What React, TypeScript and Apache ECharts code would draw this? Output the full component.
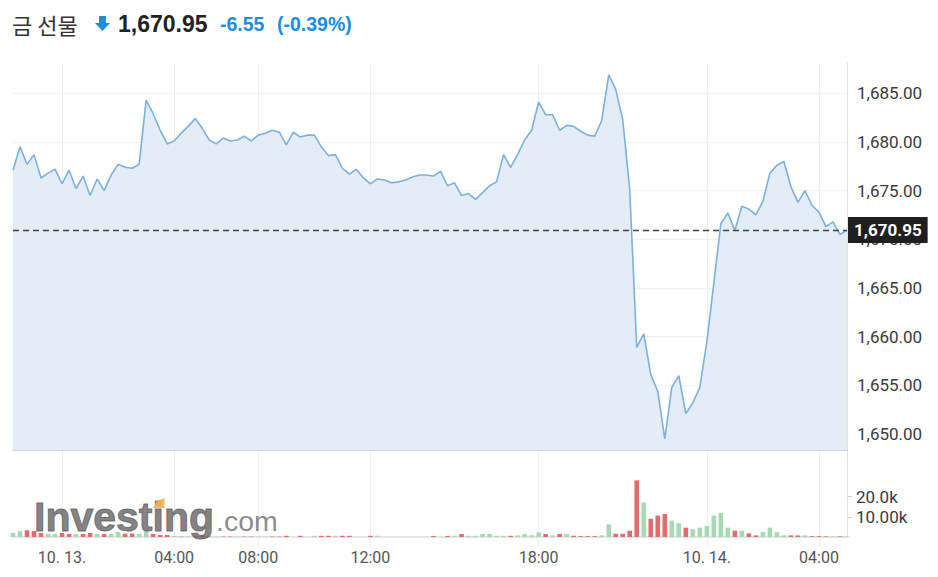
import React, { useEffect, useRef } from 'react';
import * as echarts from 'echarts';

// ---- header texts ----
const instrumentName = '금 선물';
const lastPriceText = '1,670.95';
const changeText = '-6.55';
const changePctText = '(-0.39%)';
const lastPrice = 1670.95;

// ---- price (15-minute closes, 10.12 22:15 -> 10.14 05:00, 06:00-07:00 break) ----
const priceValues = [
  1677.1, 1679.5, 1677.7, 1678.7, 1676.3, 1676.8, 1677.2, 1675.7, 1677.1, 1675.2,
  1676.5, 1674.5, 1676.2, 1675.0, 1676.6, 1677.7, 1677.4, 1677.3, 1677.7, 1684.3,
  1682.9, 1681.2, 1679.8, 1680.1, 1680.9, 1681.6, 1682.4, 1681.4, 1680.2, 1679.8,
  1680.4, 1680.1, 1680.2, 1680.6, 1680.1, 1680.7, 1680.9, 1681.2, 1681.0, 1679.7,
  1681.0, 1680.5, 1680.7, 1680.7, 1679.5, 1678.6, 1678.7, 1677.3, 1676.7, 1677.2,
  1676.3, 1675.7, 1676.2, 1676.1, 1675.8, 1675.9, 1676.1, 1676.4, 1676.6, 1676.6,
  1676.5, 1677.0, 1675.5, 1675.8, 1674.5, 1674.7, 1674.1, 1674.8, 1675.5, 1675.9,
  1678.7, 1677.4, 1678.7, 1680.2, 1681.2, 1684.1, 1682.8, 1682.8, 1681.2, 1681.7,
  1681.6, 1681.1, 1680.7, 1680.6, 1682.2, 1686.9, 1685.4, 1682.3, 1675.1, 1658.9,
  1660.3, 1656.1, 1654.4, 1649.5, 1654.8, 1656.0, 1652.1, 1653.2, 1654.8, 1659.5,
  1665.5, 1671.6, 1672.7, 1670.9, 1673.4, 1673.1, 1672.5, 1673.9, 1676.8, 1677.6,
  1678.0, 1675.4, 1673.8, 1675.0, 1673.5, 1672.8, 1671.3, 1671.8, 1670.5, 1670.95,
];

// ---- volume in thousands ----
const volumeValues = [
  2.0, 3.0, 3.3, 3.0, 2.0, 1.6, 1.5, 2.0, 1.5, 1.5,
  1.5, 2.0, 1.5, 1.5, 1.5, 2.5, 1.7, 1.7, 1.5, 3.0,
  1.5, 1.0, 1.0, 0.5, 0.5, 0.3, 0.3, 0.6, 0.2, 0.2,
  0.2, 0.2, 0.2, 0.2, 0.2, 0.2, 0.2, 0.2, 0.2, 0.6,
  0, 0.6, 0, 0.6, 0.6, 0.6, 0.6, 0.6, 0.6, 0,
  0, 0.6, 0.6, 0, 0, 0, 0, 0, 0, 0,
  0.5, 0, 0.5, 0.6, 1.5, 0.6, 0.6, 1.5, 1.5, 0.6,
  0.6, 0.6, 0.8, 1.4, 0.9, 2.3, 1.5, 0.8, 1.5, 1.5,
  0.6, 0.4, 0.4, 0.4, 0.8, 6.2, 1.6, 1.6, 3.1, 28.0,
  17.1, 9.0, 10.6, 11.4, 8.1, 6.8, 4.6, 3.8, 4.6, 5.4,
  10.6, 11.9, 4.6, 3.1, 3.1, 1.8, 0.8, 2.4, 4.6, 2.4,
  0.8, 0.8, 0.8, 0.8, 0.4, 0.4, 0.3, 0.3, 0.3, 0.3,
];
// 1 = up (green), 0 = down (red)
const volumeUp = [
  1, 1, 0, 0, 0, 1, 1, 0, 0, 1,
  0, 0, 1, 0, 1, 1, 0, 0, 1, 1,
  0, 0, 0, 1, 1, 1, 0, 0, 0, 1,
  0, 0, 1, 0, 0, 1, 1, 0, 0, 0,
  0, 0, 1, 1, 0, 0, 1, 0, 0, 1,
  0, 0, 1, 0, 0, 0, 0, 0, 0, 0,
  0, 0, 0, 1, 0, 1, 1, 1, 1, 1,
  1, 0, 1, 1, 1, 1, 0, 1, 0, 1,
  0, 0, 0, 0, 1, 1, 0, 0, 0, 0,
  1, 0, 0, 0, 1, 1, 0, 1, 1, 1,
  1, 1, 1, 0, 1, 0, 0, 1, 1, 1,
  1, 0, 0, 1, 0, 0, 0, 1, 0, 1,
];

const priceTicks = [1650, 1655, 1660, 1665, 1670, 1675, 1680, 1685];
const volumeTicks = [10, 20];
const volumeTickLabels = ['10.00k', '20.0k'];
const timeTicks = ['00:00', '04:00', '08:00', '12:00', '18:00'];

const pad = (n: number) => (n < 10 ? '0' + n : '' + n);
function buildTimes(count: number): string[] {
  const out: string[] = [];
  let day = 12, h = 22, m = 15;
  while (out.length < count) {
    if (h !== 6) out.push(`10-${day} ${pad(h)}:${pad(m)}`);
    m += 15;
    if (m === 60) { m = 0; h += 1; if (h === 24) { h = 0; day += 1; } }
  }
  return out;
}
const categories = buildTimes(priceValues.length);

const isTick = (_i: number, v: string) => timeTicks.includes(String(v).split(' ')[1]);
const fmtTime = (v: string) => {
  const [d, t] = String(v).split(' ');
  if (t === '00:00') return `10. ${d.slice(3)}.`;
  return t;
};

const BLUE = '#1a8de4';
const GRID_V = '#eceff2';

export default function App() {
  const ref = useRef<HTMLDivElement>(null);
  useEffect(() => {
    if (!ref.current) return;
    const chart = echarts.init(ref.current, undefined, { renderer: 'svg' });
    const option: any = {
      animation: false,
      grid: [
        { left: 13, right: 91, top: 63, bottom: 127 },
        { left: 13, right: 91, top: 450, bottom: 40 },
      ],
      xAxis: [
        {
          type: 'category', gridIndex: 0, data: categories, boundaryGap: false,
          axisLine: { show: true, lineStyle: { color: '#c9c9c9', width: 1.5 } },
          axisTick: { show: false }, axisLabel: { show: false },
          splitLine: { show: true, interval: isTick, lineStyle: { color: GRID_V, width: 1 } },
        },
        {
          type: 'category', gridIndex: 1, data: categories, boundaryGap: false,
          axisLine: { show: true, lineStyle: { color: '#dcdcdc', width: 1.5 } },
          axisTick: { show: true, interval: isTick, length: 10, lineStyle: { color: GRID_V } },
          axisLabel: {
            interval: isTick, formatter: fmtTime, margin: 12,
            fontFamily: 'Roboto', fontSize: 16, color: '#555',
          },
          splitLine: { show: true, interval: isTick, lineStyle: { color: GRID_V, width: 1 } },
        },
      ],
      yAxis: [
        {
          type: 'value', gridIndex: 0, position: 'right', min: 1648.36, max: 1688.11,
          axisLine: { show: true, lineStyle: { color: '#e2e2e2' } },
          axisTick: { show: false, customValues: priceTicks },
          axisLabel: {
            customValues: priceTicks, margin: 10, fontFamily: 'Roboto', fontSize: 17, color: '#3a3a3a',
            formatter: (v: number) => v.toLocaleString('en-US', { minimumFractionDigits: 2, maximumFractionDigits: 2 }),
          },
          splitLine: { show: true, lineStyle: { color: '#f1f2f4' } },
        },
        {
          type: 'value', gridIndex: 1, position: 'right', min: 0, max: 43,
          axisLine: { show: true, lineStyle: { color: '#e2e2e2' } },
          axisTick: { show: true, customValues: volumeTicks, length: 5, lineStyle: { color: '#cfcfcf' } },
          axisLabel: {
            customValues: volumeTicks, margin: 9, fontFamily: 'Roboto', fontSize: 17, color: '#3a3a3a',
            formatter: (v: number) => volumeTickLabels[volumeTicks.indexOf(v)] ?? '',
          },
          splitLine: { show: false },
        },
      ],
      series: [
        {
          type: 'line', xAxisIndex: 0, yAxisIndex: 0, data: priceValues,
          symbol: 'none', smooth: false,
          lineStyle: { color: '#7cb1dc', width: 1.6 },
          areaStyle: { color: '#e4ecf5', opacity: 1 },
          markLine: {
            silent: true, symbol: ['none', 'none'],
            data: [{ yAxis: lastPrice }],
            lineStyle: { type: [6, 4], color: '#444', width: 1.3 },
            label: {
              position: 'end', distance: 1, formatter: lastPriceText,
              backgroundColor: '#1f1f1f', color: '#fff', fontWeight: 'bold',
              fontFamily: 'Roboto', fontSize: 17, padding: [5, 6, 4, 6],
            },
          },
        },
        {
          type: 'bar', xAxisIndex: 1, yAxisIndex: 1,
          data: volumeValues.map((v, i) => ({
            value: v,
            itemStyle: { color: volumeUp[i] ? '#a7d9b4' : '#e36b6b' },
          })),
          barWidth: 4.6,
        },
      ],
      graphic: [
        {
          type: 'text', x: 12, y: 24, z: 10,
          style: { text: instrumentName, fontFamily: 'Noto Sans CJK KR', fontSize: 22, fill: '#333', verticalAlign: 'middle' },
        },
        {
          type: 'polygon', z: 10,
          shape: { points: [[99, 16], [106, 16], [106, 23], [110, 23], [102.5, 31], [95, 23], [99, 23]] },
          style: { fill: BLUE },
        },
        {
          type: 'text', x: 118, y: 24, z: 10,
          style: { text: lastPriceText, fontFamily: 'Liberation Sans', fontWeight: 'bold', fontSize: 23, fill: '#222', verticalAlign: 'middle' },
        },
        {
          type: 'text', x: 220, y: 24, z: 10,
          style: { text: changeText, fontFamily: 'Liberation Sans', fontWeight: 'bold', fontSize: 19.5, fill: BLUE, verticalAlign: 'middle' },
        },
        {
          type: 'text', x: 277, y: 24, z: 10,
          style: { text: changePctText, fontFamily: 'Liberation Sans', fontWeight: 'bold', fontSize: 19.5, fill: BLUE, verticalAlign: 'middle' },
        },
        // watermark
        {
          type: 'text', x: 34, y: 517, z: 100,
          style: {
            text: 'Investing', fontFamily: 'Liberation Sans', fontWeight: 'bold', fontSize: 41, fill: '#555',
            stroke: '#555', lineWidth: 1, opacity: 0.72, verticalAlign: 'middle',
          },
        },
        {
          type: 'text', x: 216, y: 521, z: 100,
          style: { text: '.com', fontFamily: 'Liberation Sans', fontSize: 28.5, fill: '#666', opacity: 0.75, verticalAlign: 'middle' },
        },
        {
          type: 'polygon', z: 101,
          shape: { points: [[153, 508], [157, 501], [164.5, 498], [164.5, 508]] },
          style: { fill: '#f5b24a', opacity: 0.9 },
        },
      ],
    };
    chart.setOption(option);
    return () => chart.dispose();
  }, []);
  return (
    <div
      ref={ref}
      style={{ position: 'fixed', left: 0, top: 0, width: 938, height: 577, background: '#fff' }}
    />
  );
}
